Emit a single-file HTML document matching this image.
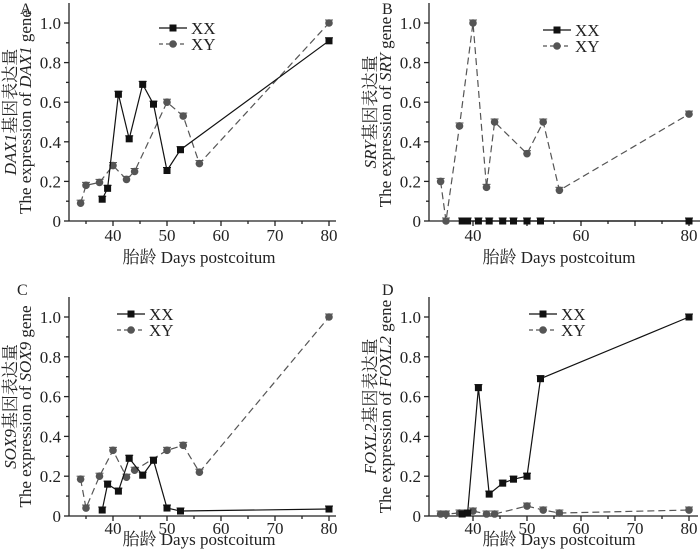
<!DOCTYPE html>
<html><head><meta charset="utf-8"><style>
body{margin:0;background:#fff}
svg{display:block;font-family:"Liberation Serif","Noto Serif CJK SC",serif}
</style></head><body>
<svg id="c" width="700" height="559" viewBox="0 0 700 559"></svg>
<script>
const daysXXA=[38,39,41,43,45.5,47.5,50,52.5,80];
const valsXXA=[0.11,0.165,0.64,0.415,0.69,0.59,0.255,0.36,0.91];
const daysXYA=[34,35,37.5,40,42.5,44,50,53,56,80];
const valsXYA=[0.09,0.18,0.195,0.28,0.21,0.25,0.6,0.53,0.29,1.0];
const daysXXB=[38,39,41,43,45.5,47.5,50,52.5,80];
const valsXXB=[0,0,0,0,0,0,0,0,0];
const daysXYB=[34,35,37.5,40,42.5,44,50,53,56,80];
const valsXYB=[0.2,0.0,0.48,1.0,0.17,0.5,0.34,0.5,0.155,0.54];
const daysXXC=[38,39,41,43,45.5,47.5,50,52.5,80];
const valsXXC=[0.03,0.16,0.125,0.29,0.205,0.28,0.04,0.025,0.035];
const daysXYC=[34,35,37.5,40,42.5,44,50,53,56,80];
const valsXYC=[0.185,0.04,0.2,0.33,0.195,0.23,0.33,0.355,0.22,1.0];
const daysXXD=[38,39,41,43,45.5,47.5,50,52.5,80];
const valsXXD=[0.01,0.015,0.645,0.11,0.165,0.185,0.2,0.69,1.0];
const daysXYD=[34,35,37.5,40,42.5,44,50,53,56,80];
const valsXYD=[0.01,0.01,0.015,0.025,0.01,0.01,0.05,0.03,0.015,0.03];
const yTicks=[0,0.2,0.4,0.6,0.8,1.0];
const yTickLabels=["0","0.2","0.4","0.6","0.8","1.0"];
const xTicksFull=[40,50,60,70,80];
const xTicksB=[40,60,80];

const NS="http://www.w3.org/2000/svg";
const svg=document.getElementById('c');
function mk(tag,attrs,parent,text){const e=document.createElementNS(NS,tag);for(const k in attrs)e.setAttribute(k,attrs[k]);if(text!==undefined)e.textContent=text;(parent||svg).appendChild(e);return e;}

function panel(p){
  const g=mk('g',{});
  
  
  const sx=d=>p.x40+(d-40)*5.4;
  const sy=v=>p.y0-v*(p.y0-p.y1);
  const top=p.y1-20, right=p.right;
  const ax=mk('g',{stroke:'#222','stroke-width':1.3},g);
  
  mk('line',{x1:p.ax,y1:top,x2:p.ax,y2:p.y0},ax);
  mk('line',{x1:p.ax,y1:p.y0,x2:right,y2:p.y0},ax);
  for(let i=0;i<=10;i++){const y=sy(i*0.1);if(y<top)continue;mk('line',{x1:p.ax-(i%2?3:5),y1:y,x2:p.ax,y2:y},ax);}
  for(let d=35;d<=80;d+=5){const x=sx(d);mk('line',{x1:x,y1:p.y0,x2:x,y2:p.y0+(d%10?3:5)},ax);}
  yTicks.forEach((t,i)=>{const e=mk('text',{x:p.ax-8,y:sy(t)+6,'text-anchor':'end','font-size':17,fill:'#222'},g,yTickLabels[i]);});
  p.xt.forEach(t=>{const e=mk('text',{x:sx(t),y:p.y0+p.tko,'text-anchor':'middle','font-size':17,fill:'#222'},g,String(t));});
  const xt=mk('text',{x:p.ax+130,y:p.y0+p.tto,'text-anchor':'middle','font-size':17,fill:'#222'},g,'胎龄 Days postcoitum');
  
  const cy=(top+p.y0)/2;
  const yt=mk('text',{transform:`translate(${p.ax-53},${cy}) rotate(-90)`,'text-anchor':'middle','font-size':17,fill:'#222'},g);
  
  mk('tspan',{'font-style':'italic'},yt,p.gene);mk('tspan',{},yt,'基因表达量');
  const yt2=mk('text',{transform:`translate(${p.ax-38},${cy}) rotate(-90)`,'text-anchor':'middle','font-size':17,fill:'#222'},g);
  
  mk('tspan',{},yt2,'The expression of ');mk('tspan',{'font-style':'italic'},yt2,p.gene);mk('tspan',{},yt2,' gene');
  const lt=mk('text',{x:p.lx,y:p.ly,'font-size':16,fill:'#222'},g,p.letter);
  
  function series(ds,vs,dash,color,sq,name){
    const sg=mk('g',{},g);
    const pts=ds.map((d,i)=>sx(d)+','+sy(vs[i])).join(' ');
    const pl=mk('polyline',{points:pts,fill:'none',stroke:color,'stroke-width':1.2,'stroke-dasharray':dash},sg);
    
    ds.forEach((d,i)=>{const x=sx(d),y=sy(vs[i]);let m;
      if(sq)m=mk('rect',{x:x-3.5,y:y-3.5,width:7,height:7,fill:color},sg);
      else m=mk('circle',{cx:x,cy:y,r:3.8,fill:color},sg);
      
      mk('line',{x1:x-4,y1:y-3,x2:x+4,y2:y-3,stroke:color,'stroke-width':1},sg);
    });
  }
  series(p.dXY,p.vXY,'7,4','#555',false,'series-xy');
  series(p.dXX,p.vXX,'none','#111',true,'series-xx');
  const lg=mk('g',{},g);
  mk('line',{x1:p.lgx,y1:p.lgy,x2:p.lgx+28,y2:p.lgy,stroke:'#111','stroke-width':1.2},lg);
  mk('rect',{x:p.lgx+10.5,y:p.lgy-3.5,width:7,height:7,fill:'#111'},lg);
  mk('text',{x:p.lgx+32,y:p.lgy+6,'font-size':17,fill:'#222'},lg,'XX');
  mk('line',{x1:p.lgx,y1:p.lgy+16,x2:p.lgx+28,y2:p.lgy+16,stroke:'#555','stroke-width':1.2,'stroke-dasharray':'4,3'},lg);
  mk('circle',{cx:p.lgx+14,cy:p.lgy+16,r:3.8,fill:'#555'},lg);
  mk('text',{x:p.lgx+32,y:p.lgy+22,'font-size':17,fill:'#222'},lg,'XY');
}
panel({letter:'A',gene:'DAX1',ax:69,x40:113,y0:221,y1:23,right:336,xt:xTicksFull,tko:20,tto:42,lx:20,ly:14,lgx:159,lgy:28,dXX:daysXXA,vXX:valsXXA,dXY:daysXYA,vXY:valsXYA});
panel({letter:'B',gene:'SRY',ax:429,x40:473,y0:221,y1:23,right:700,xt:xTicksB,tko:20,tto:42,lx:382,ly:14,lgx:543,lgy:30,dXX:daysXXB,vXX:valsXXB,dXY:daysXYB,vXY:valsXYB});
panel({letter:'C',gene:'SOX9',ax:69,x40:113,y0:516,y1:317,right:336,xt:xTicksFull,tko:18,tto:29,lx:17,ly:295,lgx:117,lgy:314,dXX:daysXXC,vXX:valsXXC,dXY:daysXYC,vXY:valsXYC});
panel({letter:'D',gene:'FOXL2',ax:429,x40:473,y0:516,y1:317,right:698,xt:xTicksFull,tko:18,tto:29,lx:382,ly:295,lgx:529,lgy:314,dXX:daysXXD,vXX:valsXXD,dXY:daysXYD,vXY:valsXYD});
</script>
</body></html>
